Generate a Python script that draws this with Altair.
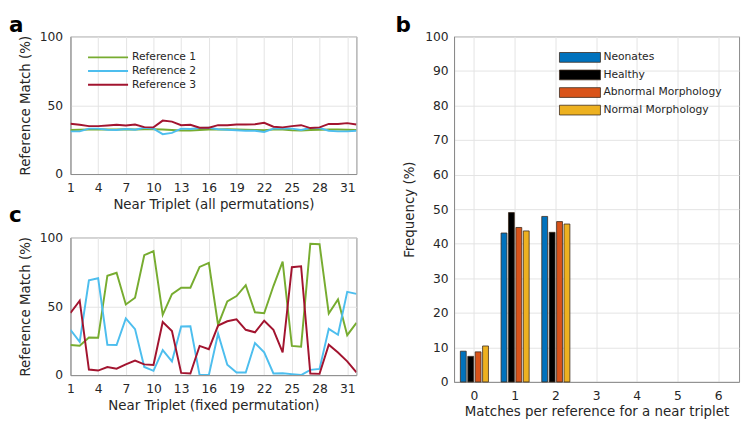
import altair as alt
import pandas as pd

# ---------------- data ----------------
near_triplet = list(range(1, 33))
x_ticks = [1, 4, 7, 10, 13, 16, 19, 22, 25, 28, 31]
series_names = ["Reference 1", "Reference 2", "Reference 3"]
series_colors = ["#77AC30", "#4DBEEE", "#A2142F"]

# panel a: all permutations
ref1_all = [32.0, 32.2, 32.3, 32.5, 32.4, 32.3, 32.5, 32.4, 32.6, 32.5, 32.3, 32.0,
            31.6, 31.7, 32.0, 32.3, 32.4, 32.5, 32.4, 32.2, 32.0, 31.9, 32.3, 32.4,
            31.8, 31.7, 32.0, 32.1, 32.3, 32.4, 32.2, 32.0]
ref2_all = [31.0, 31.0, 33.0, 33.0, 32.2, 32.0, 32.7, 32.2, 33.6, 33.0, 29.0, 29.9,
            33.0, 32.7, 33.4, 33.6, 32.5, 32.2, 31.8, 31.5, 31.5, 30.6, 33.0, 33.2,
            33.0, 32.0, 33.4, 33.4, 31.5, 31.0, 31.0, 31.5]
ref3_all = [36.5, 35.8, 34.8, 34.8, 35.3, 35.8, 35.3, 36.0, 34.1, 33.9, 38.8, 38.1,
            35.5, 35.8, 33.6, 33.6, 35.5, 35.5, 36.0, 36.0, 36.2, 37.2, 34.4, 33.9,
            34.8, 35.5, 33.4, 33.9, 36.4, 36.4, 37.0, 36.0]

# panel c: fixed permutation
ref1_fixed = [21.9, 21.4, 27.3, 27.1, 72.2, 74.4, 51.3, 56.2, 87.1, 90.1, 43.8, 58.8,
              63.5, 63.5, 78.6, 81.6, 36.5, 53.6, 57.4, 65.4, 45.6, 44.9, 64.7, 82.4,
              21.2, 20.7, 95.5, 95.1, 44.7, 55.0, 29.0, 38.0]
ref2_fixed = [32.9, 24.2, 68.9, 70.4, 22.1, 21.9, 41.2, 33.4, 5.9, 3.1, 18.1, 9.9,
              35.3, 35.5, 0.0, 0.0, 30.1, 7.5, 1.9, 1.9, 23.3, 16.5, 1.2, 1.4,
              0.7, 0.0, 3.8, 4.5, 33.6, 29.3, 60.5, 59.0]
ref3_fixed = [45.2, 54.1, 4.0, 3.3, 5.9, 4.7, 7.8, 10.6, 7.8, 7.3, 38.6, 32.0,
              1.6, 1.2, 21.2, 18.8, 36.0, 39.1, 40.5, 32.9, 31.1, 39.5, 32.9, 16.5,
              78.4, 79.1, 1.2, 0.9, 22.1, 16.4, 10.0, 2.0]

# panel b: matches per reference
matches = ["0", "1", "2", "3", "4", "5", "6"]
groups = ["Neonates", "Healthy", "Abnormal Morphology", "Normal Morphology"]
group_colors = ["#0072BD", "#000000", "#D95319", "#EDB120"]
neonates = [8.9, 43.1, 47.9, 0, 0, 0, 0]
healthy = [7.4, 49.0, 43.3, 0, 0, 0, 0]
abnormal = [8.7, 44.7, 46.4, 0, 0, 0, 0]
normal = [10.4, 43.7, 45.7, 0, 0, 0, 0]
freq_ticks = [0, 10, 20, 30, 40, 50, 60, 70, 80, 90, 100]


def long_lines(series_lists):
    rows = []
    for name, vals in zip(series_names, series_lists):
        for t, v in zip(near_triplet, vals):
            rows.append({"triplet": t, "match": v, "series": name})
    return pd.DataFrame(rows)


df_a = long_lines([ref1_all, ref2_all, ref3_all])
df_c = long_lines([ref1_fixed, ref2_fixed, ref3_fixed])

rows = []
for g, vals in zip(groups, [neonates, healthy, abnormal, normal]):
    for m, v in zip(matches, vals):
        rows.append({"matches": m, "group": g, "freq": v})
df_b = pd.DataFrame(rows)

FONT = "DejaVu Sans"


def letter(txt, dx, offset):
    return alt.TitleParams(txt, anchor="start", frame="group", dx=dx, offset=offset,
                           fontSize=22, fontWeight="bold", font=FONT, color="black")


def line_panel(df, xtitle, title, legend):
    return alt.Chart(df, title=title).mark_line(strokeWidth=2, clip=True).encode(
        x=alt.X("triplet:Q", scale=alt.Scale(domain=[1, 32], nice=False, zero=False),
                axis=alt.Axis(values=x_ticks, title=xtitle, labelPadding=8, titlePadding=4,
                              labelFlush=False)),
        y=alt.Y("match:Q", scale=alt.Scale(domain=[0, 100], nice=False),
                axis=alt.Axis(values=[0, 50, 100], title="Reference Match (%)",
                              labelPadding=8, titlePadding=7)),
        color=alt.Color("series:N", scale=alt.Scale(domain=series_names, range=series_colors),
                        legend=legend),
    ).properties(width=293, height=141)


legend_a = alt.Legend(orient="none", legendX=32.5, legendY=15.5, title=None,
                      symbolType="M-4.1,0L4.1,0", symbolSize=100, symbolStrokeWidth=2,
                      labelOffset=18.5, labelFontSize=11, labelFont=FONT, labelColor="#262626",
                      padding=0, rowPadding=3)

panel_a = line_panel(df_a, "Near Triplet (all permutations)", letter("a", -63, -6), legend_a)
panel_c = line_panel(df_c, "Near Triplet (fixed permutation)", letter("c", -63, 5), None)

legend_b = alt.Legend(orient="none", legendX=123.5, legendY=16, title=None,
                      symbolType="M-4.2,-1L4.2,-1L4.2,1L-4.2,1Z", symbolSize=100,
                      symbolStrokeColor="#3b2a1e", symbolStrokeWidth=0.8,
                      labelOffset=18.5, labelFontSize=11, labelFont=FONT, labelColor="#262626",
                      padding=0, rowPadding=3)

panel_b = alt.Chart(df_b, title=letter("b", -60, -6)).transform_filter(
    "datum.freq > 0"
).mark_bar(stroke="#3b2a1e", strokeWidth=0.8).encode(
    x=alt.X("matches:N", sort=matches,
            scale=alt.Scale(domain=matches, paddingInner=0, paddingOuter=0),
            axis=alt.Axis(labelAngle=0, title="Matches per reference for a near triplet",
                          bandPosition=0.5, grid=True, labelPadding=8, titlePadding=3)),
    xOffset=alt.XOffset("group:N", sort=groups,
                        scale=alt.Scale(domain=groups, paddingInner=0.21, paddingOuter=0.85)),
    y=alt.Y("freq:Q", scale=alt.Scale(domain=[0, 100], nice=False),
            axis=alt.Axis(values=freq_ticks, title="Frequency (%)", labelPadding=6,
                          titlePadding=8)),
    color=alt.Color("group:N", scale=alt.Scale(domain=groups, range=group_colors),
                    legend=legend_b),
).properties(width=292, height=354)

left = alt.vconcat(panel_a, panel_c, spacing=65, bounds="flush").resolve_scale(
    color="independent").resolve_legend(color="independent")

chart = alt.hconcat(left, panel_b, spacing=38).resolve_scale(
    color="independent").resolve_legend(color="independent").properties(
    padding={"left": 0, "top": 0, "right": 1, "bottom": 0}
).configure_view(
    stroke="#8a8a8a", strokeWidth=1
).configure_axis(
    labelFont=FONT, titleFont=FONT, labelFontSize=12.6, titleFontSize=13.7,
    labelColor="#262626", titleColor="#262626", titleFontWeight="normal",
    gridColor="#e3e3e3", gridWidth=1, domainColor="#8a8a8a", ticks=False, tickSize=0,
)

chart.save("out.html", embed_options={"renderer": "svg", "actions": False})
